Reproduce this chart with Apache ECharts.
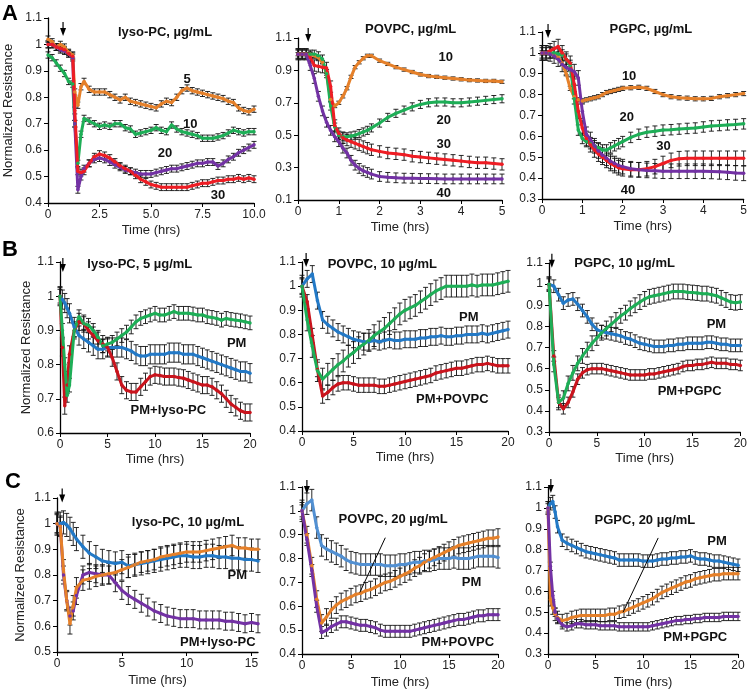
<!DOCTYPE html>
<html><head><meta charset="utf-8">
<script src="https://cdn.jsdelivr.net/npm/echarts@6/dist/echarts.min.js"></script>
<style>html,body{margin:0;padding:0;background:#fff}#c{width:750px;height:690px}</style>
</head><body><div id="c"></div>
<script>
// ---------- DATA ----------
// Panel A1: lyso-PC dose series (5,10,20,30 ug/mL)
const a1Time = [0,0.2,0.4,0.6,0.8,1.0,1.2,1.3,1.45,1.6,1.75,2.0,2.25,2.5,2.75,3.0,3.25,3.5,3.75,4.0,4.25,4.5,4.75,5.0,5.25,5.5,5.75,6.0,6.25,6.5,6.75,7.0,7.25,7.5,7.75,8.0,8.25,8.5,8.75,9.0,9.25,9.5,9.75,10.0];
const a1Lyso5 = [1.02,1.01,0.99,1.0,0.99,0.97,0.96,0.82,0.77,0.84,0.86,0.83,0.82,0.82,0.82,0.81,0.80,0.79,0.80,0.785,0.78,0.775,0.77,0.765,0.76,0.775,0.785,0.78,0.80,0.825,0.835,0.825,0.82,0.815,0.81,0.805,0.80,0.795,0.785,0.78,0.76,0.75,0.745,0.755];
const a1Lyso10 = [0.96,0.95,0.93,0.91,0.89,0.86,0.85,0.70,0.55,0.66,0.72,0.71,0.70,0.69,0.695,0.69,0.70,0.70,0.685,0.68,0.66,0.665,0.67,0.675,0.685,0.675,0.67,0.695,0.68,0.67,0.665,0.66,0.655,0.645,0.645,0.645,0.65,0.655,0.665,0.675,0.67,0.665,0.67,0.67];
const a1Lyso20 = [1.0,1.0,0.99,0.98,0.975,0.965,0.95,0.70,0.45,0.50,0.53,0.55,0.565,0.57,0.565,0.555,0.545,0.535,0.525,0.52,0.515,0.51,0.51,0.51,0.515,0.52,0.525,0.53,0.53,0.535,0.54,0.545,0.55,0.55,0.555,0.555,0.54,0.55,0.565,0.575,0.59,0.60,0.61,0.62];
const a1Lyso30 = [1.0,1.0,0.99,0.985,0.98,0.965,0.955,0.75,0.52,0.515,0.52,0.55,0.575,0.585,0.58,0.57,0.555,0.54,0.53,0.52,0.505,0.49,0.48,0.47,0.465,0.46,0.46,0.46,0.46,0.46,0.46,0.465,0.47,0.475,0.475,0.48,0.485,0.485,0.49,0.49,0.495,0.49,0.495,0.49];
const a1Err = [0.012,0.012,0.013,0.013];

// Panel A2: POVPC dose series (10,20,30,40)
const a2Time = [0,0.1,0.2,0.3,0.4,0.5,0.6,0.7,0.8,0.9,1.0,1.1,1.2,1.3,1.4,1.5,1.6,1.7,1.8,2.0,2.2,2.4,2.6,2.8,3.0,3.2,3.4,3.6,3.8,4.0,4.2,4.4,4.6,4.8,5.0];
const a2Povpc10 = [1.0,1.0,1.0,1.0,0.99,0.98,0.95,0.88,0.72,0.68,0.70,0.74,0.79,0.86,0.92,0.95,0.975,0.99,0.99,0.96,0.94,0.92,0.905,0.89,0.875,0.865,0.86,0.855,0.85,0.845,0.84,0.838,0.835,0.835,0.83];
const a2Povpc20 = [1.0,1.0,1.0,1.0,1.0,0.99,0.97,0.88,0.68,0.55,0.50,0.49,0.49,0.495,0.50,0.51,0.52,0.53,0.545,0.575,0.61,0.635,0.655,0.675,0.69,0.70,0.705,0.705,0.70,0.70,0.705,0.71,0.715,0.72,0.725];
const a2Povpc30 = [1.0,1.0,1.0,0.98,0.93,0.925,0.92,0.915,0.80,0.56,0.51,0.485,0.47,0.46,0.45,0.44,0.43,0.42,0.41,0.40,0.39,0.385,0.38,0.37,0.365,0.36,0.355,0.35,0.345,0.34,0.335,0.33,0.33,0.325,0.32];
const a2Povpc40 = [1.0,1.0,1.0,0.93,0.85,0.74,0.65,0.58,0.53,0.49,0.46,0.42,0.39,0.345,0.315,0.295,0.28,0.27,0.26,0.245,0.24,0.237,0.235,0.234,0.233,0.232,0.231,0.23,0.23,0.23,0.23,0.23,0.23,0.23,0.23];
const a2Err = [0.01,0.025,0.035,0.03];

// Panel A3: PGPC dose series (10,20,30,40)
const a3Time = [0,0.1,0.2,0.3,0.4,0.5,0.6,0.7,0.8,0.9,1.0,1.1,1.2,1.3,1.4,1.5,1.6,1.7,1.8,1.9,2.0,2.2,2.4,2.6,2.8,3.0,3.2,3.4,3.6,3.8,4.0,4.2,4.4,4.6,4.8,5.0];
const a3Pgpc10 = [1.0,1.0,1.0,0.99,0.98,0.95,0.90,0.83,0.79,0.775,0.77,0.775,0.78,0.785,0.79,0.80,0.81,0.815,0.82,0.825,0.83,0.833,0.835,0.83,0.815,0.80,0.79,0.785,0.783,0.78,0.78,0.782,0.79,0.795,0.80,0.805];
const a3Pgpc20 = [1.0,1.0,1.0,1.0,0.995,0.99,0.97,0.94,0.78,0.63,0.59,0.575,0.565,0.555,0.545,0.535,0.535,0.545,0.555,0.565,0.575,0.595,0.61,0.62,0.625,0.63,0.632,0.635,0.638,0.64,0.645,0.65,0.652,0.655,0.657,0.66];
const a3Pgpc30 = [1.0,1.0,1.01,1.02,1.03,1.0,0.97,0.95,0.85,0.72,0.64,0.59,0.56,0.535,0.515,0.50,0.485,0.47,0.46,0.45,0.445,0.44,0.44,0.445,0.455,0.47,0.485,0.493,0.495,0.495,0.495,0.495,0.495,0.495,0.495,0.495];
const a3Pgpc40 = [1.0,1.0,0.995,0.985,0.97,0.945,0.93,0.92,0.91,0.88,0.72,0.61,0.585,0.555,0.53,0.51,0.495,0.48,0.47,0.46,0.455,0.445,0.44,0.437,0.435,0.433,0.433,0.433,0.433,0.433,0.433,0.432,0.43,0.428,0.425,0.423];
const a3Err = [0.01,0.025,0.035,0.035];

// Panel B1: lyso-PC 5 ug/mL
const b1Time = [0,0.25,0.5,0.75,1.0,1.5,2,2.5,3,3.5,4,4.5,5,5.5,6,6.5,7,7.5,8,8.5,9,9.5,10,10.5,11,11.5,12,12.5,13,13.5,14,14.5,15,15.5,16,16.5,17,17.5,18,18.5,19,19.5,20];
const b1Pm = [1.0,0.99,0.98,0.965,0.95,0.91,0.885,0.875,0.865,0.855,0.845,0.845,0.85,0.85,0.85,0.85,0.845,0.84,0.83,0.825,0.825,0.83,0.83,0.83,0.83,0.835,0.835,0.835,0.83,0.83,0.83,0.825,0.82,0.815,0.81,0.805,0.80,0.795,0.79,0.785,0.78,0.78,0.775];
const b1PmLyso = [1.0,0.85,0.68,0.74,0.83,0.90,0.925,0.92,0.90,0.885,0.87,0.86,0.85,0.82,0.78,0.74,0.725,0.72,0.72,0.735,0.75,0.765,0.77,0.768,0.765,0.765,0.765,0.762,0.76,0.755,0.75,0.745,0.74,0.74,0.735,0.725,0.715,0.70,0.685,0.675,0.665,0.66,0.66];
const b1Lyso = [1.0,0.90,0.80,0.71,0.74,0.90,0.94,0.92,0.915,0.90,0.88,0.855,0.86,0.865,0.875,0.885,0.895,0.91,0.925,0.935,0.94,0.945,0.95,0.945,0.945,0.95,0.955,0.95,0.95,0.95,0.948,0.945,0.945,0.94,0.938,0.935,0.93,0.935,0.932,0.93,0.928,0.925,0.922];
const b1Err = [0.028,0.025,0.02];

// Panel B2: POVPC 10 ug/mL
const b2Time = [0,0.5,1,1.5,2,2.5,3,3.5,4,4.5,5,5.5,6,6.5,7,7.5,8,8.5,9,9.5,10,10.5,11,11.5,12,12.5,13,13.5,14,14.5,15,15.5,16,16.5,17,17.5,18,18.5,19,19.5,20];
const b2Pm = [1.0,1.03,1.05,0.94,0.86,0.84,0.825,0.81,0.80,0.79,0.78,0.775,0.77,0.77,0.775,0.77,0.775,0.78,0.775,0.775,0.78,0.78,0.78,0.785,0.785,0.79,0.79,0.795,0.79,0.79,0.795,0.795,0.80,0.80,0.80,0.805,0.80,0.805,0.81,0.815,0.82];
const b2PmPovpc = [1.0,0.935,0.795,0.655,0.545,0.56,0.58,0.595,0.60,0.60,0.595,0.59,0.59,0.59,0.59,0.585,0.585,0.59,0.595,0.60,0.605,0.61,0.615,0.62,0.625,0.63,0.64,0.645,0.65,0.655,0.66,0.66,0.665,0.67,0.675,0.675,0.68,0.675,0.67,0.67,0.67];
const b2Povpc = [1.0,0.86,0.75,0.65,0.615,0.635,0.655,0.675,0.69,0.71,0.725,0.745,0.76,0.775,0.795,0.81,0.825,0.845,0.865,0.885,0.90,0.91,0.92,0.935,0.95,0.965,0.98,0.99,1.0,1.0,1.0,1.0,1.0,1.005,1.0,1.005,1.005,1.005,1.01,1.015,1.02];
const b2Err = [0.035,0.03,0.045];

// Panel B3: PGPC 10 ug/mL
const b3Time = [0,0.5,1,1.5,2,2.5,3,3.5,4,4.5,5,5.5,6,6.5,7,7.5,8,8.5,9,9.5,10,10.5,11,11.5,12,12.5,13,13.5,14,14.5,15,15.5,16,16.5,17,17.5,18,18.5,19,19.5,20];
const b3Pm = [1.0,0.99,0.95,0.91,0.925,0.93,0.905,0.875,0.845,0.81,0.785,0.775,0.77,0.765,0.76,0.755,0.745,0.74,0.73,0.72,0.715,0.71,0.705,0.705,0.705,0.71,0.71,0.715,0.715,0.72,0.72,0.72,0.72,0.725,0.725,0.72,0.715,0.715,0.71,0.71,0.71];
const b3PmPgpc = [1.0,0.66,0.44,0.41,0.44,0.49,0.55,0.58,0.595,0.60,0.60,0.60,0.595,0.59,0.585,0.58,0.575,0.57,0.57,0.57,0.57,0.575,0.575,0.58,0.585,0.59,0.595,0.60,0.61,0.615,0.615,0.62,0.62,0.625,0.63,0.625,0.625,0.625,0.62,0.62,0.615];
const b3Pgpc = [1.0,0.62,0.44,0.46,0.53,0.58,0.625,0.66,0.69,0.72,0.745,0.77,0.79,0.81,0.83,0.85,0.865,0.885,0.90,0.915,0.93,0.94,0.945,0.95,0.955,0.96,0.965,0.965,0.965,0.962,0.96,0.958,0.955,0.955,0.95,0.945,0.935,0.925,0.915,0.912,0.915];
const b3Err = [0.03,0.025,0.035];

// Panel C1: lyso-PC 10 ug/mL
const c1Time = [0,0.25,0.5,0.75,1.0,1.25,1.5,2,2.5,3,3.5,4,4.5,5,5.5,6,6.5,7,7.5,8,8.5,9,9.5,10,10.5,11,11.5,12,12.5,13,13.5,14,14.5,15,15.5];
const c1Pm = [1.0,1.0,1.005,0.995,0.98,0.96,0.94,0.91,0.885,0.87,0.855,0.85,0.845,0.85,0.835,0.84,0.845,0.85,0.855,0.86,0.865,0.87,0.875,0.875,0.87,0.87,0.875,0.875,0.87,0.87,0.865,0.865,0.86,0.86,0.855];
const c1PmLyso = [1.0,0.99,0.80,0.70,0.64,0.66,0.72,0.80,0.81,0.805,0.80,0.80,0.77,0.74,0.72,0.705,0.69,0.675,0.66,0.65,0.64,0.635,0.63,0.63,0.63,0.625,0.625,0.625,0.625,0.62,0.62,0.615,0.61,0.615,0.61];
const c1Lyso = [1.0,0.99,0.82,0.70,0.61,0.68,0.75,0.78,0.785,0.795,0.80,0.805,0.81,0.82,0.83,0.84,0.85,0.855,0.86,0.87,0.875,0.88,0.885,0.89,0.89,0.89,0.895,0.90,0.905,0.91,0.915,0.905,0.905,0.90,0.90];
const c1Err = [0.045,0.035,0.04];

// Panel C2: POVPC 20 ug/mL
const c2Time = [0,0.5,1,1.5,2,2.5,3,3.5,4,4.5,5,5.5,6,6.5,7,7.5,8,8.5,9,9.5,10,10.5,11,11.5,12,12.5,13,13.5,14,14.5,15,15.5,16,16.5,17,17.5,18,18.5,19,19.5,20];
const c2Pm = [1.0,1.03,1.045,0.93,0.855,0.84,0.83,0.82,0.81,0.795,0.785,0.78,0.775,0.775,0.775,0.775,0.775,0.77,0.77,0.77,0.775,0.775,0.78,0.785,0.785,0.79,0.79,0.795,0.80,0.80,0.80,0.805,0.80,0.80,0.80,0.805,0.81,0.81,0.81,0.81,0.805];
const c2Povpc = [1.0,0.90,0.77,0.63,0.53,0.555,0.585,0.605,0.62,0.63,0.64,0.65,0.655,0.665,0.67,0.68,0.69,0.70,0.705,0.715,0.725,0.735,0.745,0.76,0.77,0.785,0.795,0.805,0.815,0.825,0.835,0.845,0.855,0.86,0.865,0.87,0.875,0.88,0.885,0.885,0.89];
const c2PmPovpc = [1.0,0.88,0.75,0.60,0.49,0.50,0.515,0.525,0.535,0.535,0.53,0.525,0.52,0.52,0.515,0.51,0.50,0.495,0.495,0.495,0.495,0.495,0.495,0.50,0.505,0.51,0.515,0.52,0.525,0.53,0.535,0.54,0.545,0.545,0.55,0.555,0.56,0.56,0.565,0.565,0.565];
const c2Err = [0.045,0.035,0.025];

// Panel C3: PGPC 20 ug/mL
const c3Time = [0,0.25,0.5,0.75,1.0,1.5,2,2.5,3,3.5,4,4.5,5,5.5,6,6.5,7,7.5,8,8.5,9,9.5,10,10.5,11,11.5,12,12.5,13,13.5,14,14.5,15,15.5,16,16.5,17,17.5,18,18.5,19,19.5,20];
const c3Pm = [1.0,1.02,1.03,0.98,0.91,0.845,0.83,0.82,0.81,0.80,0.79,0.785,0.78,0.775,0.77,0.765,0.76,0.75,0.75,0.75,0.75,0.75,0.745,0.745,0.745,0.75,0.755,0.755,0.76,0.76,0.765,0.765,0.77,0.76,0.755,0.755,0.75,0.745,0.745,0.74,0.735,0.73,0.725];
const c3Pgpc = [1.0,0.56,0.52,0.49,0.475,0.46,0.465,0.475,0.48,0.485,0.485,0.485,0.485,0.485,0.485,0.49,0.49,0.50,0.505,0.515,0.525,0.535,0.545,0.555,0.565,0.58,0.595,0.605,0.615,0.625,0.635,0.645,0.65,0.66,0.665,0.67,0.675,0.68,0.68,0.685,0.685,0.685,0.685];
const c3PmPgpc = [1.0,0.72,0.58,0.50,0.47,0.44,0.43,0.435,0.445,0.445,0.44,0.44,0.44,0.435,0.435,0.435,0.435,0.43,0.43,0.43,0.43,0.43,0.43,0.43,0.435,0.44,0.445,0.45,0.455,0.46,0.46,0.465,0.465,0.47,0.47,0.475,0.475,0.475,0.475,0.48,0.48,0.48,0.48];
const c3Err = [0.03,0.03,0.02];

// Tick labels
const ticksA1x = [0,2.5,5,7.5,10];
const ticksA1y = [0.4,0.5,0.6,0.7,0.8,0.9,1.0,1.1];
const ticksA2x = [0,1,2,3,4,5];
const ticksA2y = [0.1,0.3,0.5,0.7,0.9,1.1];
const ticksA3x = [0,1,2,3,4,5];
const ticksA3y = [0.3,0.4,0.5,0.6,0.7,0.8,0.9,1.0,1.1];
const ticksB1y = [0.6,0.7,0.8,0.9,1.0,1.1];
const ticksB2y = [0.4,0.5,0.6,0.7,0.8,0.9,1.0,1.1];
const ticksB3y = [0.3,0.4,0.5,0.6,0.7,0.8,0.9,1.0,1.1];
const ticks20x = [0,5,10,15,20];
const ticksC1x = [0,5,10,15];
const ticksC1y = [0.5,0.6,0.7,0.8,0.9,1.0,1.1];
const ticksC2y = [0.4,0.5,0.6,0.7,0.8,0.9,1.0,1.1];
const ticksC3y = [0.3,0.4,0.5,0.6,0.7,0.8,0.9,1.0,1.1];

// ---------- STYLE / LAYOUT ----------
const FONT = '"Liberation Sans", Arial, Helvetica, sans-serif';
const ORANGE = '#E5802A', GREEN = '#1EAE57', PURPLE = '#7332A4', RED = '#EE1D24',
      BLUE = '#2379C6', DKRED = '#C9141D', LBLUE = '#5290D2';

const panels = [
  {grid:{left:48,top:18,width:206,height:185}, xr:[0,10], yr:[0.4,1.1], xt:ticksA1x, yt:ticksA1y, xfmt:'dec', yName:true, yGap:33, xGap:21,
   series:[[a1Time,a1Lyso5,ORANGE,a1Err[0]],[a1Time,a1Lyso10,GREEN,a1Err[1]],[a1Time,a1Lyso20,PURPLE,a1Err[2]],[a1Time,a1Lyso30,RED,a1Err[3]]]},
  {grid:{left:298,top:38,width:204,height:162}, xr:[0,5], yr:[0.1,1.1], xt:ticksA2x, yt:ticksA2y, xGap:21,
   series:[[a2Time,a2Povpc10,ORANGE,a2Err[0]],[a2Time,a2Povpc20,GREEN,a2Err[1]],[a2Time,a2Povpc30,RED,a2Err[2]],[a2Time,a2Povpc40,PURPLE,a2Err[3]]]},
  {grid:{left:542,top:32,width:204,height:167}, xr:[0,5], yr:[0.3,1.1], xt:ticksA3x, yt:ticksA3y, xGap:21,
   series:[[a3Time,a3Pgpc10,ORANGE,a3Err[0]],[a3Time,a3Pgpc20,GREEN,a3Err[1]],[a3Time,a3Pgpc30,RED,a3Err[2]],[a3Time,a3Pgpc40,PURPLE,a3Err[3]]]},
  {grid:{left:60,top:262,width:190,height:171}, xr:[0,20], yr:[0.6,1.1], xt:ticks20x, yt:ticksB1y, yName:true, yGap:25, xGap:20,
   series:[[b1Time,b1Pm,BLUE,b1Err[0]],[b1Time,b1PmLyso,DKRED,b1Err[1]],[b1Time,b1Lyso,GREEN,b1Err[2]]]},
  {grid:{left:302,top:262,width:206,height:169}, xr:[0,20], yr:[0.4,1.1], xt:ticks20x, yt:ticksB2y, xGap:20,
   series:[[b2Time,b2Pm,BLUE,b2Err[0]],[b2Time,b2PmPovpc,DKRED,b2Err[1]],[b2Time,b2Povpc,GREEN,b2Err[2]]]},
  {grid:{left:549,top:263,width:192,height:169}, xr:[0,20], yr:[0.3,1.1], xt:ticks20x, yt:ticksB3y, xGap:20,
   series:[[b3Time,b3Pm,BLUE,b3Err[0]],[b3Time,b3PmPgpc,DKRED,b3Err[1]],[b3Time,b3Pgpc,GREEN,b3Err[2]]]},
  {grid:{left:57,top:498,width:201,height:154}, xr:[0,15.5], yr:[0.5,1.1], xt:ticksC1x, yt:ticksC1y, yName:true, yGap:30, xGap:22,
   series:[[c1Time,c1Pm,BLUE,c1Err[0]],[c1Time,c1PmLyso,PURPLE,c1Err[1]],[c1Time,c1Lyso,ORANGE,c1Err[2]]]},
  {grid:{left:302,top:487,width:196,height:168}, xr:[0,20], yr:[0.4,1.1], xt:ticks20x, yt:ticksC2y, xGap:22,
   series:[[c2Time,c2Pm,LBLUE,c2Err[0]],[c2Time,c2Povpc,ORANGE,c2Err[1]],[c2Time,c2PmPovpc,PURPLE,c2Err[2]]]},
  {grid:{left:548,top:487,width:190,height:167}, xr:[0,20], yr:[0.3,1.1], xt:ticks20x, yt:ticksC3y, xGap:22,
   series:[[c3Time,c3Pm,BLUE,c3Err[0]],[c3Time,c3Pgpc,ORANGE,c3Err[1]],[c3Time,c3PmPgpc,PURPLE,c3Err[2]]]}
];

// Annotations in data coordinates: [gridIndex, text, x, y]
const notes = [
  [0,'lyso-PC, µg/mL',5.68,1.047],[0,'5',6.75,0.869],[0,'10',6.9,0.699],[0,'20',5.68,0.589],[0,'30',8.25,0.43],
  [1,'POVPC, µg/mL',2.76,1.156],[1,'10',3.62,0.983],[1,'20',3.57,0.594],[1,'30',3.57,0.44],[1,'40',3.57,0.143],
  [2,'PGPC, µg/mL',2.7,1.11],[2,'10',2.16,0.889],[2,'20',2.1,0.693],[2,'30',3.01,0.554],[2,'40',2.13,0.343],
  [3,'lyso-PC, 5 µg/mL',8.4,1.094],[3,'PM',18.6,0.863],[3,'PM+lyso-PC',11.4,0.667],
  [4,'POVPC, 10 µg/mL',7.8,1.092],[4,'PM',16.2,0.872],[4,'PM+POVPC',14.6,0.532],
  [5,'PGPC, 10 µg/mL',7.9,1.1],[5,'PM',17.5,0.807],[5,'PM+PGPC',14.7,0.49],
  [6,'lyso-PC, 10 µg/mL',10.1,1.004],[6,'PM',13.9,0.80],[6,'PM+lyso-PC',12.4,0.539],
  [7,'POVPC, 20 µg/mL',9.3,0.9625],[7,'PM',17.3,0.70],[7,'PM+POVPC',15.9,0.45],
  [8,'PGPC, 20 µg/mL',10.2,0.942],[8,'PM',17.8,0.837],[8,'PM+PGPC',15.5,0.38]
];
// treatment arrows: [gridIndex, time, tip value]
const arrows = [[0,0.73,1.032],[1,0.25,1.075],[2,0.15,1.071],[3,0.3,1.071],[4,0.4,1.079],[5,0.3,1.077],[6,0.4,1.082],[7,0.5,1.071],[8,0.3,1.071]];
// pointer lines: [gridIndex, x1,y1,x2,y2]
const pointers = [[7,8.5,0.8875,5.9,0.658],[8,11.6,0.856,7.9,0.50]];

// ---------- BUILD ----------
const yFmt = v => Math.abs(v-1) < 1e-9 ? '1' : (+v).toFixed(1);
const grids = [], xAxes = [], yAxes = [], series = [];
panels.forEach((p, i) => {
  grids.push(Object.assign({containLabel:false}, p.grid));
  const axisLine = {show:true, onZero:false, lineStyle:{color:'#000', width:1.3}};
  xAxes.push({
    type:'value', gridIndex:i, min:p.xr[0], max:p.xr[1],
    axisLine, splitLine:{show:false},
    axisTick:{show:true, inside:false, length:4, customValues:p.xt, lineStyle:{color:'#000'}},
    axisLabel:{customValues:p.xt, color:'#222', fontFamily:FONT, fontSize:12, margin:6,
      formatter: p.xfmt==='dec' ? (v => v===0 ? '0' : (+v).toFixed(1)) : (v => String(v))},
    name:'Time (hrs)', nameLocation:'middle', nameGap:p.xGap,
    nameTextStyle:{fontFamily:FONT, fontSize:13, color:'#222'}
  });
  yAxes.push({
    type:'value', gridIndex:i, min:p.yr[0], max:p.yr[1],
    axisLine, splitLine:{show:false},
    axisTick:{show:true, inside:false, length:4, customValues:p.yt, lineStyle:{color:'#000'}},
    axisLabel:{customValues:p.yt, color:'#222', fontFamily:FONT, fontSize:12, margin:6, formatter:yFmt},
    name: p.yName ? 'Normalized Resistance' : '', nameLocation:'middle', nameGap:p.yGap||30, nameRotate:90,
    nameTextStyle:{fontFamily:FONT, fontSize:13, color:'#222'}
  });
  p.series.forEach(s => {
    const [t, v, col, err] = s;
    series.push({
      type:'custom', xAxisIndex:i, yAxisIndex:i, z:2, silent:true, clip:false, animation:false,
      data: t.map((x, k) => [x, v[k], err]),
      encode:{x:0, y:1},
      renderItem:(params, api) => {
        const x = api.value(0), y = api.value(1), e = api.value(2);
        const a = api.coord([x, y + e]), b = api.coord([x, y - e]);
        const w = 2.5, st = {stroke:'#111', lineWidth:0.9};
        return {type:'group', children:[
          {type:'line', shape:{x1:a[0], y1:a[1], x2:b[0], y2:b[1]}, style:st},
          {type:'line', shape:{x1:a[0]-w, y1:a[1], x2:a[0]+w, y2:a[1]}, style:st},
          {type:'line', shape:{x1:b[0]-w, y1:b[1], x2:b[0]+w, y2:b[1]}, style:st}
        ]};
      }
    });
  });
  p.series.forEach(s => {
    const [t, v, col] = s;
    series.push({
      type:'line', xAxisIndex:i, yAxisIndex:i, z:3, animation:false, silent:true,
      data: t.map((x, k) => [x, v[k]]),
      symbol:'circle', symbolSize:3.5, showSymbol:true,
      lineStyle:{color:col, width:3}, itemStyle:{color:col}
    });
  });
});

const chart = echarts.init(document.getElementById('c'), null, {renderer:'canvas'});
chart.setOption({
  backgroundColor:'#fff', animation:false,
  grid:grids, xAxis:xAxes, yAxis:yAxes, series
});

// annotations placed through the axes
const g = [];
notes.forEach(([gi, txt, x, y]) => {
  const p = chart.convertToPixel({gridIndex:gi}, [x, y]);
  g.push({type:'text', silent:true, z:10, style:{text:txt, x:p[0], y:p[1], textAlign:'center', textVerticalAlign:'middle',
    align:'center', verticalAlign:'middle', font:'bold 13px ' + FONT, fill:'#111'}});
});
arrows.forEach(([gi, x, y]) => {
  const p = chart.convertToPixel({gridIndex:gi}, [x, y]);
  g.push({type:'line', silent:true, z:10, shape:{x1:p[0], y1:p[1]-14, x2:p[0], y2:p[1]-6}, style:{stroke:'#000', lineWidth:1.2}});
  g.push({type:'polygon', silent:true, z:10, shape:{points:[[p[0]-3, p[1]-8],[p[0]+3, p[1]-8],[p[0], p[1]]]}, style:{fill:'#000'}});
});
pointers.forEach(([gi, x1, y1, x2, y2]) => {
  const a = chart.convertToPixel({gridIndex:gi}, [x1, y1]);
  const b = chart.convertToPixel({gridIndex:gi}, [x2, y2]);
  g.push({type:'line', silent:true, z:10, shape:{x1:a[0], y1:a[1], x2:b[0], y2:b[1]}, style:{stroke:'#000', lineWidth:1}});
});
[['A',10,14],['B',10,250],['C',13,482]].forEach(([t, x, y]) => {
  g.push({type:'text', silent:true, z:10, style:{text:t, x, y, textAlign:'center', textVerticalAlign:'middle',
    align:'center', verticalAlign:'middle', font:'bold 22px ' + FONT, fill:'#000'}});
});
chart.setOption({graphic:g});
</script></body></html>
